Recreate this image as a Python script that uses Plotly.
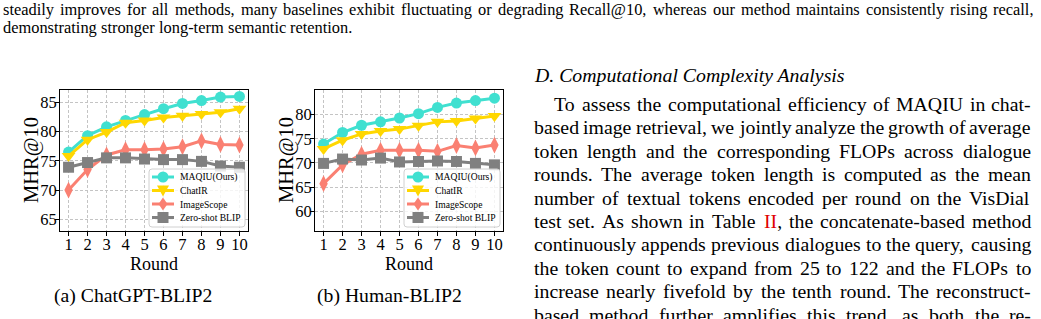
import plotly.graph_objects as go

# ---------------- data ----------------
rounds = [1, 2, 3, 4, 5, 6, 7, 8, 9, 10]
methods = ["MAQIU(Ours)", "ChatIR", "ImageScope", "Zero-shot BLIP"]

gpt_maqiu = [76.5, 79.3, 80.8, 81.9, 82.9, 83.9, 84.8, 85.3, 85.9, 86.0]
gpt_chatir = [75.8, 78.6, 79.9, 81.5, 81.9, 82.4, 82.7, 83.0, 83.3, 83.9]
gpt_imagescope = [70.0, 73.5, 76.0, 76.9, 76.9, 77.0, 77.4, 78.4, 77.8, 77.7]
gpt_blip = [73.9, 74.7, 75.5, 75.5, 75.3, 75.2, 75.2, 74.9, 74.1, 73.9]

human_maqiu = [73.9, 76.3, 77.8, 78.5, 79.3, 80.2, 81.5, 82.4, 82.9, 83.4]
human_chatir = [72.9, 74.7, 76.0, 76.6, 77.0, 77.7, 78.5, 78.7, 79.2, 79.7]
human_imagescope = [65.7, 69.6, 71.8, 72.6, 72.6, 72.6, 72.4, 73.6, 73.1, 73.7]
human_blip = [69.9, 70.8, 70.6, 71.0, 70.2, 70.3, 70.4, 70.3, 69.9, 69.6]

gpt_ticks = [65, 70, 75, 80, 85]
human_ticks = [60, 65, 70, 75, 80]

x_title = "Round"
y_title = "MHR@10"
caption_a = "(a) ChatGPT-BLIP2"
caption_b = "(b) Human-BLIP2"

top_lines = [
    "steadily improves for all methods, many baselines exhibit fluctuating or degrading Recall@10, whereas our method maintains consistently rising recall,",
    "demonstrating stronger long-term semantic retention.",
]
heading = "D. Computational Complexity Analysis"
body_lines = [
    "To assess the computational efficiency of MAQIU in chat-",
    "based image retrieval, we jointly analyze the growth of average",
    "token length and the corresponding FLOPs across dialogue",
    "rounds. The average token length is computed as the mean",
    "number of textual tokens encoded per round on the VisDial",
    "test set. As shown in Table II, the concatenate-based method",
    "continuously appends previous dialogues to the query, causing",
    "the token count to expand from 25 to 122 and the FLOPs to",
    "increase nearly fivefold by the tenth round. The reconstruct-",
    "based method further amplifies this trend, as both the re-",
]

# ---------------- styling ----------------
W, H = 1041, 319
FONT = "Liberation Serif"
colors = ["#40E0D0", "#FFD700", "#FA8072", "#808080"]
symbols = ["circle", "triangle-down", "diamond-tall", "square"]
msizes = [11, 12, 12, 11]


def px_x(v):
    return v / W


def px_y(v):
    return 1 - v / H


fig = go.Figure()

panels = [
    ([gpt_maqiu, gpt_chatir, gpt_imagescope, gpt_blip], "x", "y"),
    ([human_maqiu, human_chatir, human_imagescope, human_blip], "x2", "y2"),
]
for series, xa, ya in panels:
    for name, vals, c, s, ms in zip(methods, series, colors, symbols, msizes):
        fig.add_trace(go.Scatter(
            x=rounds, y=vals, name=name, mode="lines+markers",
            line=dict(color=c, width=3),
            marker=dict(color=c, symbol=s, size=ms),
            xaxis=xa, yaxis=ya, showlegend=False,
        ))

axis_common = dict(
    showline=True, linecolor="black", linewidth=1, mirror=True,
    ticks="outside", ticklen=4, tickcolor="black",
    showgrid=True, gridcolor="#c4c4c4", griddash="3px,2px", gridwidth=1,
    zeroline=False, tickfont=dict(family=FONT, size=16.5, color="black"),
)
ydom = [px_y(231), px_y(90)]
panel_x = [(60, 248), (315, 503)]
fig.update_layout(
    xaxis=dict(domain=[px_x(panel_x[0][0]), px_x(panel_x[0][1])], range=[0.55, 10.45],
               tickvals=rounds, anchor="y", ticklabelstandoff=-6, **axis_common),
    yaxis=dict(domain=ydom, range=[63.0, 87.1], tickvals=gpt_ticks, anchor="x",
               ticklabelstandoff=-5, **axis_common),
    xaxis2=dict(domain=[px_x(panel_x[1][0]), px_x(panel_x[1][1])], range=[0.55, 10.45],
                tickvals=rounds, anchor="y2", ticklabelstandoff=-6, **axis_common),
    yaxis2=dict(domain=ydom, range=[55.9, 85.1], tickvals=human_ticks, anchor="x2",
                ticklabelstandoff=-5, **axis_common),
)

annotations = []
shapes = []

# axis titles
for (l, r), yx in zip(panel_x, [32, 287]):
    annotations.append(dict(
        text=x_title, x=px_x((l + r) / 2), y=px_y(264), xref="paper", yref="paper",
        xanchor="center", yanchor="middle", showarrow=False, borderpad=0,
        font=dict(family=FONT, size=18, color="black")))
    annotations.append(dict(
        text=y_title, x=px_x(yx), y=px_y(160), xref="paper", yref="paper", textangle=-90,
        xanchor="center", yanchor="middle", showarrow=False, borderpad=0,
        font=dict(family=FONT, size=20.5, color="black")))


# ---------------- legends (drawn as shapes + text) ----------------
def ppath(points):
    return "M " + " L ".join(f"{px_x(a):.6f},{px_y(b):.6f}" for a, b in points) + " Z"


def rounded_box(x0, y0, x1, y1, r):
    X = px_x
    Y = px_y
    return (f"M {X(x0 + r)},{Y(y0)} L {X(x1 - r)},{Y(y0)} Q {X(x1)},{Y(y0)} {X(x1)},{Y(y0 + r)} "
            f"L {X(x1)},{Y(y1 - r)} Q {X(x1)},{Y(y1)} {X(x1 - r)},{Y(y1)} "
            f"L {X(x0 + r)},{Y(y1)} Q {X(x0)},{Y(y1)} {X(x0)},{Y(y1 - r)} "
            f"L {X(x0)},{Y(y0 + r)} Q {X(x0)},{Y(y0)} {X(x0 + r)},{Y(y0)} Z")


legend_rows = [177, 190.5, 204, 217.5]
for dx in [0, 255]:
    bx0, bx1, by0, by1 = 149 + dx, 245 + dx, 169, 227
    shapes.append(dict(type="path", path=rounded_box(bx0, by0, bx1, by1, 3),
                       xref="paper", yref="paper", layer="above",
                       fillcolor="rgba(255,255,255,0.82)",
                       line=dict(color="#d0d0d0", width=1)))
    for name, c, s, ry in zip(methods, colors, symbols, legend_rows):
        lx0, lx1 = 152 + dx, 174 + dx
        cx = (lx0 + lx1) / 2
        shapes.append(dict(type="line", xref="paper", yref="paper", layer="above",
                           x0=px_x(lx0), x1=px_x(lx1), y0=px_y(ry), y1=px_y(ry),
                           line=dict(color=c, width=3)))
        if s == "circle":
            shapes.append(dict(type="circle", xref="paper", yref="paper", layer="above",
                               x0=px_x(cx - 5.5), x1=px_x(cx + 5.5),
                               y0=px_y(ry + 5.5), y1=px_y(ry - 5.5),
                               fillcolor=c, line=dict(color=c, width=0)))
        elif s == "triangle-down":
            shapes.append(dict(type="path", xref="paper", yref="paper", layer="above",
                               path=ppath([(cx - 6, ry - 5), (cx + 6, ry - 5), (cx, ry + 6)]),
                               fillcolor=c, line=dict(color=c, width=0)))
        elif s == "diamond-tall":
            shapes.append(dict(type="path", xref="paper", yref="paper", layer="above",
                               path=ppath([(cx, ry - 6.5), (cx + 4.5, ry), (cx, ry + 6.5), (cx - 4.5, ry)]),
                               fillcolor=c, line=dict(color=c, width=0)))
        else:
            shapes.append(dict(type="rect", xref="paper", yref="paper", layer="above",
                               x0=px_x(cx - 5.5), x1=px_x(cx + 5.5),
                               y0=px_y(ry + 5.5), y1=px_y(ry - 5.5),
                               fillcolor=c, line=dict(color=c, width=0)))
        annotations.append(dict(
            text=name, x=px_x(179 + dx), y=px_y(ry), xref="paper", yref="paper",
            xanchor="left", yanchor="middle", showarrow=False, borderpad=0,
            font=dict(family=FONT, size=9.6, color="black")))

# ---------------- text ----------------
CW = {' ': 250, '!': 333, '(': 333, ')': 333, ',': 250, '-': 333, '.': 250, '@': 921,
      'A': 722, 'B': 667, 'C': 667, 'D': 722, 'E': 611, 'F': 556, 'G': 722, 'H': 722,
      'I': 333, 'J': 389, 'K': 722, 'L': 611, 'M': 889, 'N': 722, 'O': 722, 'P': 556,
      'Q': 722, 'R': 667, 'S': 556, 'T': 611, 'U': 722, 'V': 722, 'W': 944, 'X': 722,
      'Y': 722, 'Z': 611,
      'a': 444, 'b': 500, 'c': 444, 'd': 500, 'e': 444, 'f': 333, 'g': 500, 'h': 500,
      'i': 278, 'j': 278, 'k': 500, 'l': 278, 'm': 778, 'n': 500, 'o': 500, 'p': 500,
      'q': 500, 'r': 333, 's': 389, 't': 278, 'u': 500, 'v': 500, 'w': 722, 'x': 500,
      'y': 500, 'z': 444}


def tw(s, fs):
    return sum(CW.get(ch, 500) for ch in s) / 1000.0 * fs


def place_line(line, y, left, right, fs, justify=True):
    words = line.split(" ")
    widths = [tw(w, fs) for w in words]
    if justify and len(words) > 1:
        gap = (right - left - sum(widths)) / (len(words) - 1)
    else:
        gap = 0.25 * fs
    x = left
    for w, wd in zip(words, widths):
        txt = w
        if w == "II,":
            txt = '<span style="color:#e00000">II</span>,'
        annotations.append(dict(
            text=txt, x=px_x(x), y=px_y(y), xref="paper", yref="paper",
            xanchor="left", yanchor="middle", showarrow=False, borderpad=0,
            font=dict(family=FONT, size=fs, color="black"),
        ))
        x += wd + gap


place_line(top_lines[0], 10, 2, 1033, 16.4, justify=True)
place_line(top_lines[1], 27, 2, 1033, 16.4, justify=False)

annotations.append(dict(
    text="<i>" + heading + "</i>", x=px_x(533), y=px_y(75), xref="paper", yref="paper",
    xanchor="left", yanchor="middle", showarrow=False, borderpad=0,
    font=dict(family=FONT, size=19.8, color="black"),
))

for i, line in enumerate(body_lines):
    left = 553 if i == 0 else 533
    place_line(line, 104 + 23.4 * i, left, 1030, 19.8, justify=True)

for cap, cx in [(caption_a, 133), (caption_b, 389)]:
    annotations.append(dict(
        text=cap, x=px_x(cx), y=px_y(295), xref="paper", yref="paper",
        xanchor="center", yanchor="middle", showarrow=False, borderpad=0,
        font=dict(family=FONT, size=19.7, color="black"),
    ))

fig.update_layout(
    annotations=annotations, shapes=shapes, showlegend=False,
    width=W, height=H, margin=dict(l=0, r=0, t=0, b=0),
    paper_bgcolor="white", plot_bgcolor="white",
    font=dict(family=FONT, color="black"),
)

fig.write_html("out.html", config={"displayModeBar": False})
